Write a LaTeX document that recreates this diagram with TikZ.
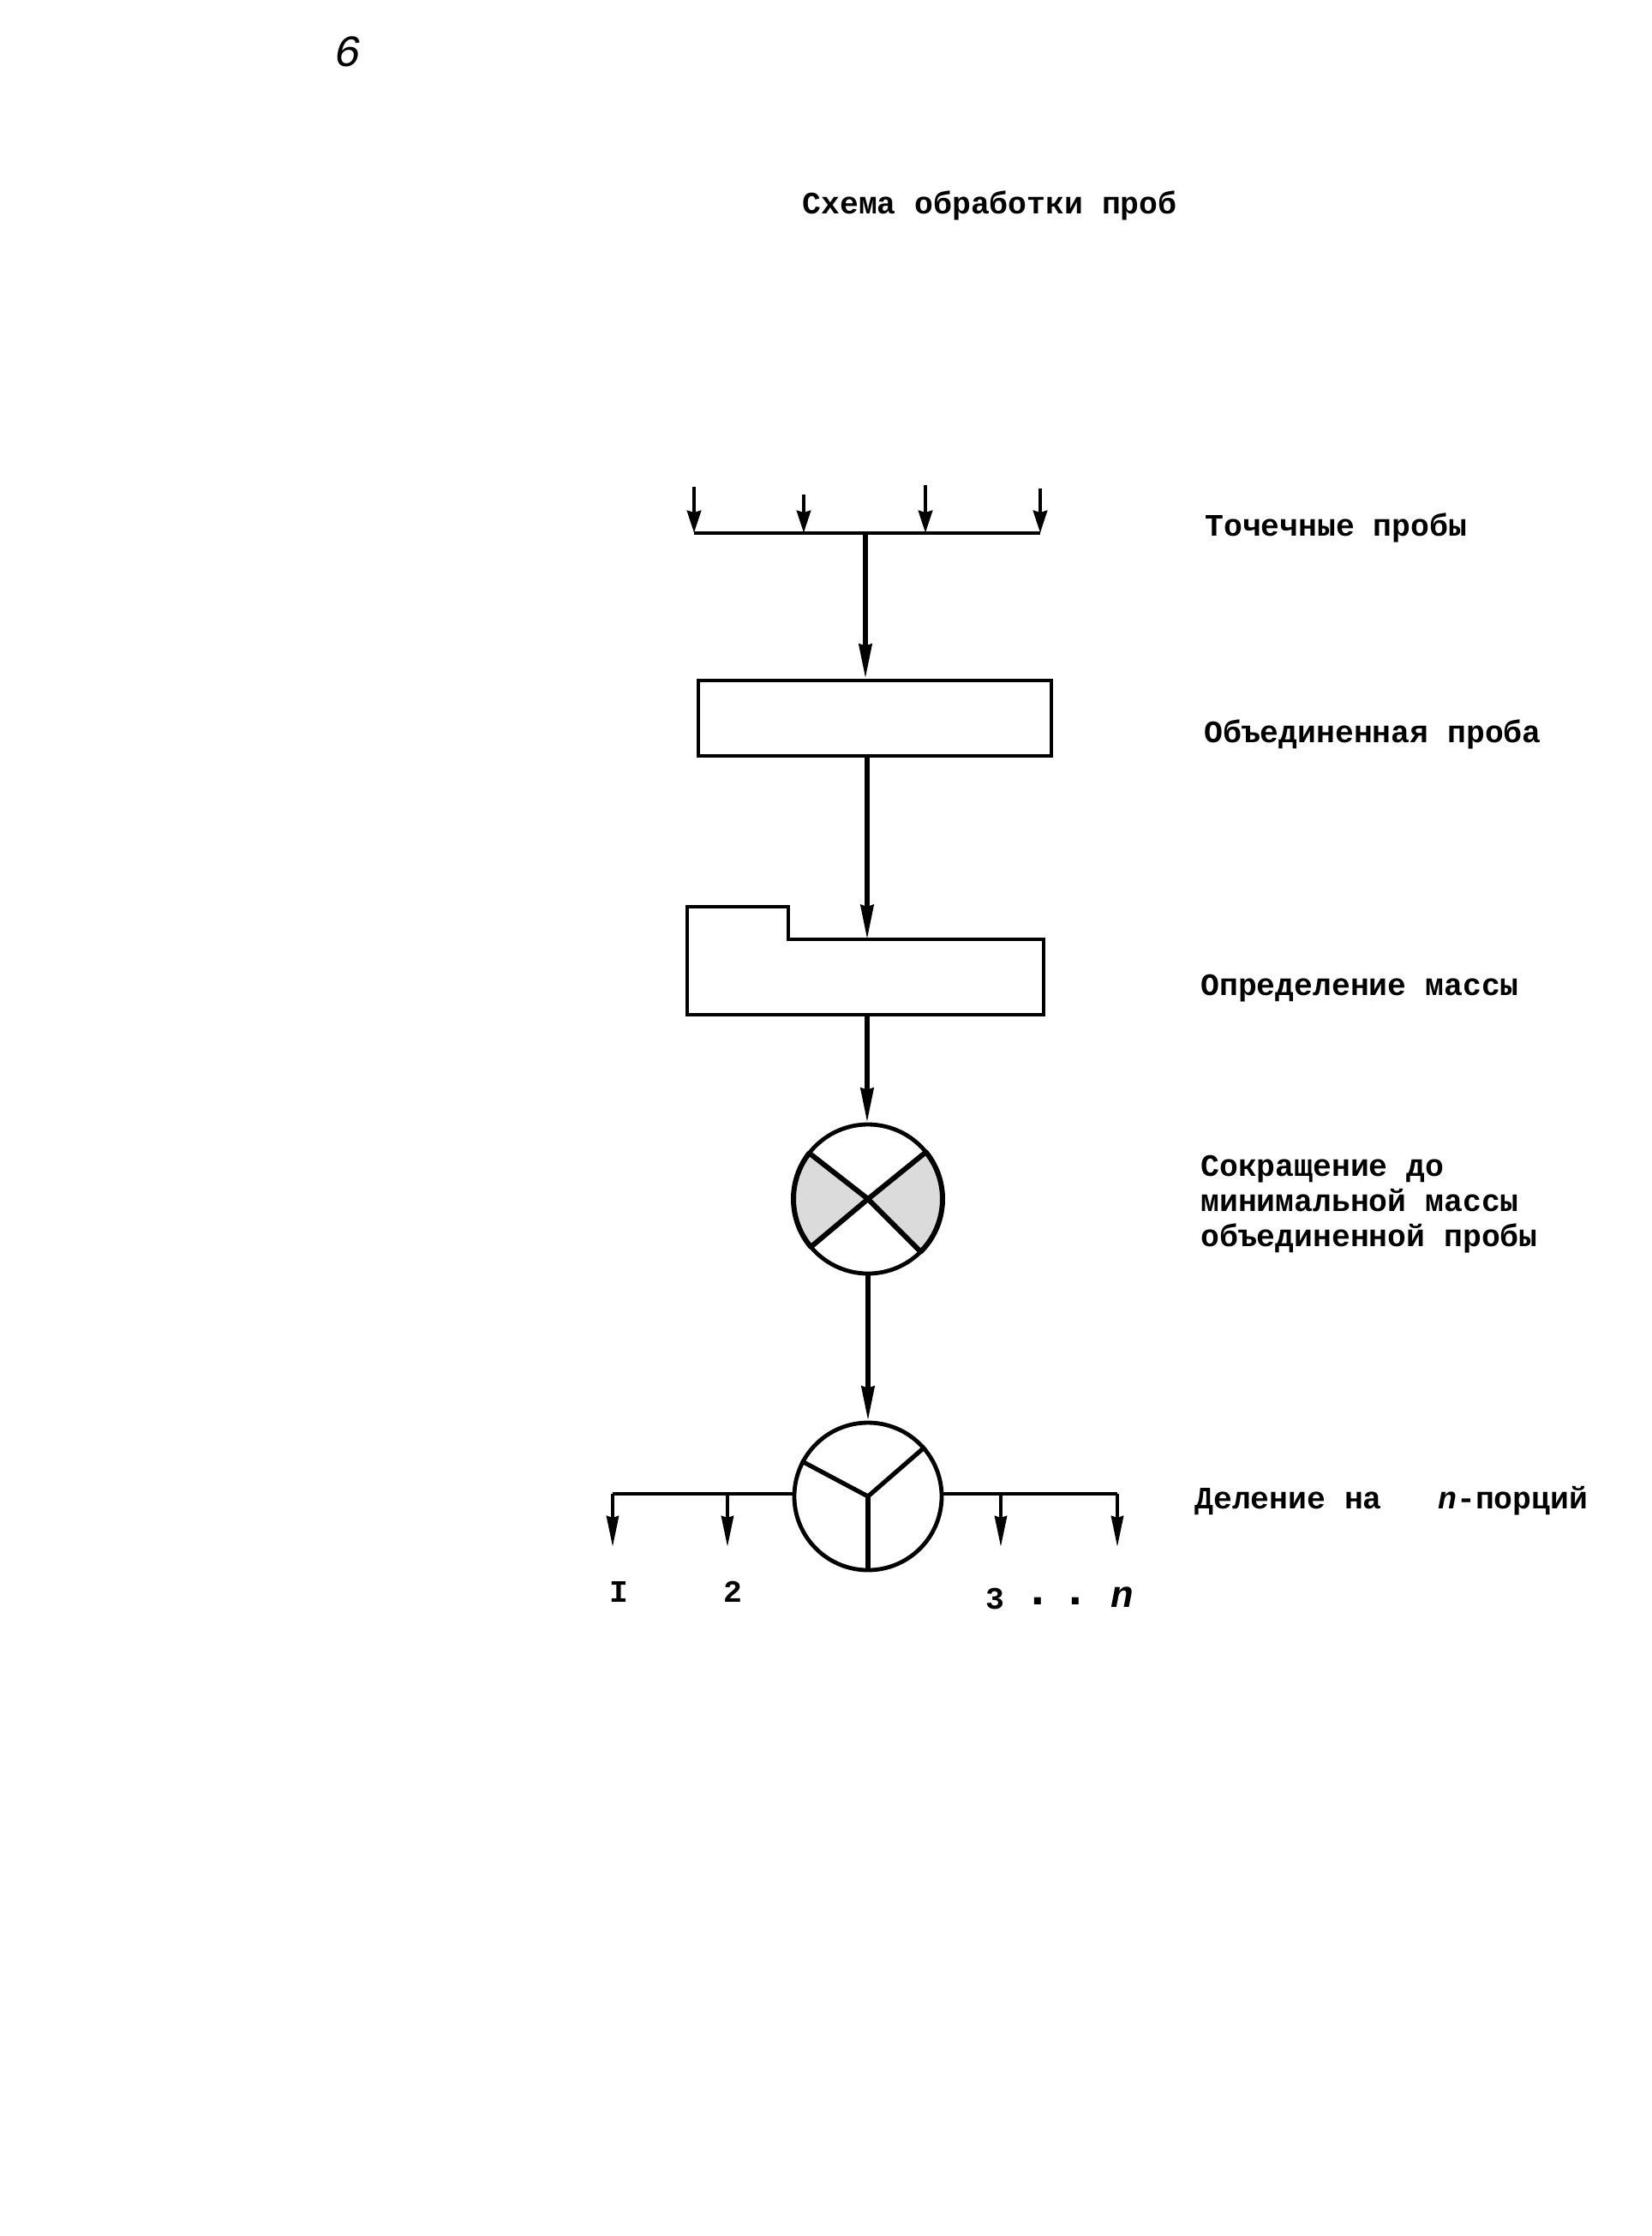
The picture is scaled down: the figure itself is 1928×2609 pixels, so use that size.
\documentclass[tikz,border=0pt]{standalone}
\usepackage{fontspec}
\setmainfont{Liberation Mono}
\usetikzlibrary{positioning, arrows.meta}
\tikzset{
    label/.style={anchor=west, inner sep=0pt, font=\fontsize{18.2}{20.5}\selectfont\bfseries, align=left},
    nlabel/.style={inner sep=0pt, font=\fontsize{18.2}{20.5}\selectfont\bfseries},
    wire/.style={line width=2.4pt},
    feed/.style={line width=2.6pt, -{Stealth[length=20pt,width=7.5pt,inset=1pt]}},
    intap/.style={line width=2.4pt, -{Stealth[length=13pt,width=8pt,inset=1pt]}},
    outtap/.style={line width=2.2pt, -{Stealth[length=18pt,width=7pt,inset=1pt]}},
    stage/.style={draw, line width=2.4pt, rectangle, inner sep=0pt},
    disc/.style={draw, line width=2.4pt, circle, inner sep=0pt, minimum size=87pt},
    sector/.style={fill=black!14, draw=black, line width=3pt, line join=round}
}
\begin{document}
\begin{tikzpicture}[x=0.5pt,y=-0.5pt]

        \useasboundingbox[fill=white] (0,0) rectangle (1928,2609);

        % Page number and title
        \node[nlabel, font=\fontsize{26}{28}\selectfont\itshape] (page) at (406,60) {6};
        \node[nlabel] (title) at (1155,240) {Схема обработки проб};

        % Spot samples on the collecting bus
        \coordinate (busL) at (810,622);
        \coordinate (busR) at (1214,622);
        \coordinate (bus) at (1010,622);
        \coordinate (s1) at (810,568);
        \coordinate (s2) at (938,577);
        \coordinate (s3) at (1080,566);
        \coordinate (s4) at (1214,570);
        \draw[wire] (busL) -- (busR);
        \draw[intap] (s1) -- (s1 |- bus);
        \draw[intap] (s2) -- (s2 |- bus);
        \draw[intap] (s3) -- (s3 |- bus);
        \draw[intap] (s4) -- (s4 |- bus);
        \node[label] (spot) at (1406,616) {Точечные пробы};

        % Combined sample
        \node[stage, minimum width=206pt, minimum height=44pt] (combined) at (1021,838) {};
        \draw[feed] (bus) -- (bus |- combined.north);
        \node[label] (combinedtxt) at (1405,857) {Объединенная проба};

        % Mass determination (stepped box)
        \coordinate (m1) at (802,1058);
        \coordinate (m2) at (920,1058);
        \coordinate (m3) at (920,1096);
        \coordinate (m4) at (1218,1096);
        \coordinate (m5) at (1218,1184);
        \coordinate (m6) at (802,1184);
        \coordinate (massin) at (1012,1096);
        \coordinate (massout) at (1012,1184);
        \draw[line width=2.4pt] (m1) -- (m2) -- (m3) -- (m4) -- (m5) -- (m6) -- cycle;
        \draw[feed] (combined.south -| massin) -- (massin);
        \node[label] (masstxt) at (1401,1153) {Определение массы};

        % Reduction disc with shaded sectors
        \coordinate (rc) at (1013,1399);
        \filldraw[sector, shift={(rc)}, x=1pt, y=1pt] (0,0) -- (142:43.5) arc[start angle=142, end angle=220, radius=43.5] -- cycle;
        \filldraw[sector, shift={(rc)}, x=1pt, y=1pt] (0,0) -- (-45:43.5) arc[start angle=-45, end angle=39, radius=43.5] -- cycle;
        \node[disc] (reduce) at (rc) {};
        \draw[feed] (massout) -- (massout |- reduce.north);
        \node[label] (reducetxt) at (1401,1405) {Сокращение до\\минимальной массы\\объединенной пробы};

        % Dividing disc and its outputs
        \node[disc, minimum size=86pt] (split) at (1013,1746) {};
        \draw[line width=2.6pt] (split.center) -- (split.152);
        \draw[line width=2.6pt] (split.center) -- (split.41);
        \draw[line width=2.6pt] (split.center) -- (split.270);
        \draw[feed] (reduce.south) -- (split.north);
        \node[label] (splittxt) at (1394,1751) {Деление на \ \ \textit{n}-порций};

        \coordinate (o1) at (715,1743);
        \coordinate (o2) at (849,1743);
        \coordinate (o3) at (1168,1743);
        \coordinate (o4) at (1304,1743);
        \draw[wire] (split.west |- o1) -- (o1);
        \draw[wire] (split.east |- o4) -- (o4);
        \draw[outtap] (o1) -- ++(0,62);
        \draw[outtap] (o2) -- ++(0,62);
        \draw[outtap] (o3) -- ++(0,62);
        \draw[outtap] (o4) -- ++(0,62);

        % Portion numbers
        \node[nlabel] (p1) at (722,1857) {I};
        \node[nlabel] (p2) at (855,1857) {2};
        \node[nlabel] (p3) at (1161,1866) {3};
        \node[nlabel, font=\fontsize{28}{30}\selectfont\bfseries] (pd1) at (1211,1868) {.};
        \node[nlabel, font=\fontsize{28}{30}\selectfont\bfseries] (pd2) at (1255,1868) {.};
        \node[nlabel, font=\fontsize{22}{24}\selectfont\bfseries\itshape] (pn) at (1310,1864) {n};

    \end{tikzpicture}
\end{document}
